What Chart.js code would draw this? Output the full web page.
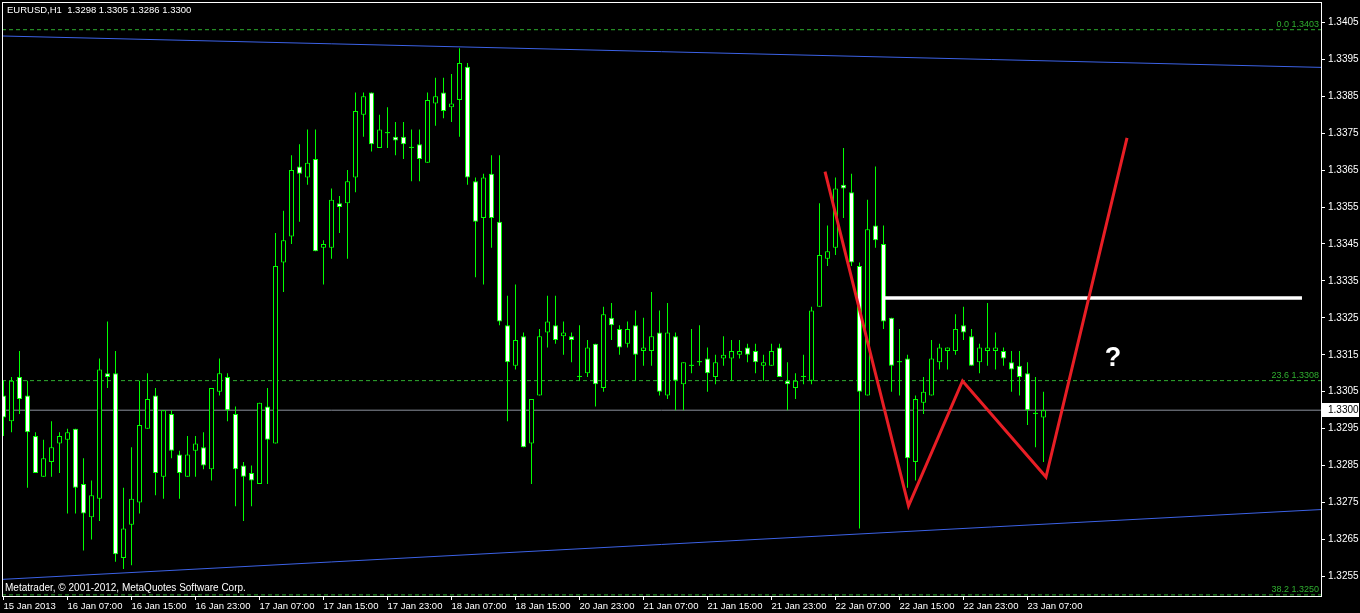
<!DOCTYPE html>
<html>
<head>
<meta charset="utf-8">
<script src="https://cdn.jsdelivr.net/npm/chart.js@4.4.0/dist/chart.umd.min.js"></script>
<style>
html, body { margin: 0; padding: 0; background: #000; }
canvas { display: block; }
</style>
</head>
<body>
<canvas id="myChart" width="1360" height="613"></canvas>
<script>
const symbol = 'EURUSD,H1';

// H1 candles (bar 0 = 15 Jan 23:00)
const opens = [
  1.3304,1.3297,1.3309,1.3304,1.3293,1.3282,1.3286,1.3291,1.3292,1.3295,
  1.3280,1.3271,1.3276,1.3310,1.3310,1.3260,1.3269,1.3275,1.3295,1.3304,
  1.3282,1.3299,1.3288,1.3282,1.3289,1.3290,1.3284,1.3305,1.3309,1.3299,
  1.3285,1.3283,1.3280,1.3301,1.3291,1.3340,1.3347,1.3366,1.3363,1.3368,
  1.3344,1.3344,1.3356,1.3356,1.3363,1.3380,1.3386,1.3371,1.3375,1.3374,
  1.3374,1.3371,1.3372,1.3367,1.3383,1.3386,1.3382,1.3384,1.3393,1.3362,
  1.3352,1.3364,1.3351,1.3323,1.3312,1.3320,1.3291,1.3304,1.3321,1.3323,
  1.3320,1.3320,1.3309,1.3310,1.3318,1.3306,1.3325,1.3322,1.3318,1.3323,
  1.3316,1.3316,1.3321,1.3304,1.3320,1.3307,1.3312,1.3313,1.3314,1.3309,
  1.3314,1.3314,1.3315,1.3317,1.3316,1.3312,1.3312,1.3317,1.3308,1.3306,
  1.3309,1.3308,1.3328,1.3341,1.3344,1.3361,1.3359,1.3339,1.3304,1.3350,
  1.3345,1.3325,1.3313,1.3314,1.3286,1.3302,1.3304,1.3313,1.3316,1.3316,
  1.3323,1.3320,1.3313,1.3316,1.3316,1.3316,1.3313,1.3312,1.3310,1.3299,
  1.3298
];
const highs = [
  1.3308,1.3309,1.3316,1.3308,1.3294,1.3292,1.3297,1.3294,1.3295,1.3295,
  1.3287,1.3281,1.3314,1.3324,1.3316,1.3279,1.3290,1.3308,1.3310,1.3306,
  1.3300,1.3300,1.3289,1.3293,1.3293,1.3294,1.3306,1.3314,1.3310,1.3301,
  1.3286,1.3285,1.3302,1.3306,1.3348,1.3354,1.3369,1.3372,1.3376,1.3376,
  1.3346,1.3360,1.3358,1.3365,1.3386,1.3386,1.3386,1.3380,1.3382,1.3378,
  1.3378,1.3376,1.3376,1.3386,1.3390,1.3390,1.3391,1.3398,1.3394,1.3363,
  1.3364,1.3369,1.3369,1.3331,1.3334,1.3321,1.3303,1.3322,1.3331,1.3331,
  1.3324,1.3321,1.3323,1.3319,1.3318,1.3328,1.3329,1.3323,1.3324,1.3327,
  1.3325,1.3332,1.3327,1.3329,1.3321,1.3313,1.3322,1.3323,1.3317,1.3315,
  1.3320,1.3319,1.3319,1.3318,1.3318,1.3315,1.3318,1.3318,1.3313,1.3310,
  1.3315,1.3328,1.3356,1.3350,1.3363,1.3371,1.3364,1.3340,1.3357,1.3366,
  1.3350,1.3325,1.3322,1.3315,1.3304,1.3309,1.3319,1.3318,1.3317,1.3326,
  1.3328,1.3322,1.3318,1.3329,1.3321,1.3317,1.3316,1.3316,1.3313,1.3309,
  1.3305
];
const lows = [
  1.3293,1.3294,1.3299,1.3279,1.3283,1.3282,1.3282,1.3283,1.3272,1.3272,
  1.3262,1.3265,1.3270,1.3306,1.3259,1.3257,1.3258,1.3272,1.3295,1.3277,
  1.3276,1.3287,1.3276,1.3282,1.3282,1.3284,1.3281,1.3304,1.3297,1.3274,
  1.3270,1.3274,1.3280,1.3280,1.3291,1.3332,1.3345,1.3351,1.3361,1.3343,
  1.3334,1.3341,1.3348,1.3341,1.3359,1.3374,1.3370,1.3371,1.3371,1.3369,
  1.3368,1.3362,1.3362,1.3367,1.3377,1.3379,1.3378,1.3374,1.3361,1.3336,
  1.3334,1.3344,1.3323,1.3297,1.3311,1.3290,1.3280,1.3304,1.3317,1.3318,
  1.3315,1.3313,1.3308,1.3309,1.3301,1.3305,1.3319,1.3315,1.3317,1.3308,
  1.3312,1.3312,1.3304,1.3303,1.3300,1.3300,1.3310,1.3312,1.3305,1.3307,
  1.3312,1.3308,1.3314,1.3313,1.3310,1.3308,1.3312,1.3309,1.3300,1.3303,
  1.3307,1.3307,1.3328,1.3339,1.3342,1.3352,1.3339,1.3268,1.3304,1.3344,
  1.3322,1.3305,1.3304,1.3279,1.3281,1.3299,1.3304,1.3311,1.3311,1.3315,
  1.3319,1.3312,1.3310,1.3312,1.3311,1.3312,1.3305,1.3304,1.3296,1.3290,
  1.3286
];
const closes = [
  1.3298,1.3308,1.3303,1.3294,1.3283,1.3287,1.3290,1.3293,1.3294,1.3279,
  1.3272,1.3277,1.3311,1.3309,1.3261,1.3268,1.3276,1.3296,1.3303,1.3283,
  1.3300,1.3289,1.3283,1.3288,1.3291,1.3285,1.3306,1.3310,1.3300,1.3284,
  1.3282,1.3281,1.3302,1.3292,1.3339,1.3346,1.3365,1.3364,1.3367,1.3343,
  1.3345,1.3357,1.3355,1.3362,1.3381,1.3385,1.3372,1.3376,1.3375,1.3373,
  1.3372,1.3371,1.3368,1.3384,1.3385,1.3381,1.3383,1.3394,1.3363,1.3351,
  1.3363,1.3352,1.3324,1.3313,1.3319,1.3290,1.3303,1.3320,1.3324,1.3319,
  1.3321,1.3319,1.3309,1.3317,1.3307,1.3326,1.3323,1.3317,1.3322,1.3315,
  1.3317,1.3320,1.3305,1.3321,1.3308,1.3313,1.3312,1.3313,1.3310,1.3313,
  1.3315,1.3316,1.3316,1.3315,1.3313,1.3313,1.3316,1.3309,1.3307,1.3308,
  1.3309,1.3327,1.3342,1.3343,1.3360,1.3360,1.3340,1.3305,1.3349,1.3346,
  1.3324,1.3312,1.3313,1.3287,1.3303,1.3305,1.3314,1.3317,1.3317,1.3322,
  1.3321,1.3312,1.3317,1.3317,1.3317,1.3314,1.3311,1.3309,1.3300,1.3299,
  1.3300
];

const xTickLabels = ['15 Jan 2013', '16 Jan 07:00', '16 Jan 15:00', '16 Jan 23:00', '17 Jan 07:00',
  '17 Jan 15:00', '17 Jan 23:00', '18 Jan 07:00', '18 Jan 15:00', '20 Jan 23:00', '21 Jan 07:00',
  '21 Jan 15:00', '21 Jan 23:00', '22 Jan 07:00', '22 Jan 15:00', '22 Jan 23:00', '23 Jan 07:00'];
const barsPerLabel = 8;
const yTickValues = [1.3255, 1.3265, 1.3275, 1.3285, 1.3295, 1.3305, 1.3315, 1.3325,
  1.3335, 1.3345, 1.3355, 1.3365, 1.3375, 1.3385, 1.3395, 1.3405];

// objects drawn on the chart (x in bars, y in price)
const upperChannelX = [-0.1875, 164.6875];
const upperChannelY = [1.34013, 1.33928];
const lowerChannelX = [-0.1875, 164.6875];
const lowerChannelY = [1.32542, 1.32731];
const zigzagX = [102.69, 113.13, 119.88, 130.31, 140.44];
const zigzagY = [1.33646, 1.32741, 1.33079, 1.32819, 1.33737];
const levelX = [110.19, 162.31];
const levelY = 1.33304;
const fiboNames = ['0.0', '23.6', '38.2'];
const fiboLevels = [1.3403, 1.3308, 1.3250];
const bidPrice = 1.3300;
const questionX = 138.69, questionY = 1.33141;

const xMin = -0.1875, xMax = 164.6875;
const yMin = 1.32497, yMax = 1.34105;

const lime = '#00ff00';
const fiboColor = '#2fae2f';
const FONT = '"Liberation Sans", Arial, sans-serif';

const idx = opens.map((_, i) => i);
const pts = (xs, ys) => xs.map((v, i) => ({ x: v, y: ys[i] }));

function bodyFill(c) {
    const i = c.dataIndex;
    if (opens[i] === closes[i]) return lime;
    return closes[i] > opens[i] ? '#000000' : '#ffffff';
}

const overlay = {
    id: 'overlay',
    afterDatasetsDraw(chart) {
        const { ctx, chartArea: a, scales: { x, y } } = chart;
        ctx.save();
        ctx.font = '9px ' + FONT;
        ctx.fillStyle = fiboColor;
        ctx.textAlign = 'right';
        ctx.textBaseline = 'bottom';
        fiboLevels.forEach((lv, k) => {
            ctx.fillText(fiboNames[k] + ' ' + lv.toFixed(4), a.right - 2, y.getPixelForValue(lv) - 1);
        });
        ctx.font = 'bold 27px ' + FONT;
        ctx.fillStyle = '#ffffff';
        ctx.textAlign = 'center';
        ctx.textBaseline = 'middle';
        ctx.fillText('?', x.getPixelForValue(questionX), y.getPixelForValue(questionY));
        ctx.restore();
    },
    afterDraw(chart) {
        const { ctx, chartArea: a, scales: { y } } = chart;
        const last = opens.length - 1;
        ctx.save();
        ctx.strokeStyle = '#ffffff';
        ctx.lineWidth = 1;
        ctx.strokeRect(a.left + 0.5, a.top + 0.5, a.right - a.left, a.bottom - a.top);

        ctx.font = '9.5px ' + FONT;
        ctx.fillStyle = '#ffffff';
        ctx.textAlign = 'left';
        ctx.textBaseline = 'middle';
        ctx.fillText(symbol + '  ' + [opens[last], highs[last], lows[last], closes[last]].map(v => v.toFixed(4)).join(' '), 7, 10);
        ctx.font = '10px ' + FONT;
        ctx.fillText('Metatrader, \u00a9 2001-2012, MetaQuotes Software Corp.', 5, 588);

        const yy = Math.round(y.getPixelForValue(bidPrice));
        ctx.fillRect(a.right + 1, yy - 7, 37, 14);
        ctx.fillStyle = '#000000';
        ctx.fillText(bidPrice.toFixed(4), a.right + 7, yy + 0.5);
        ctx.restore();
    }
};

const ctx = document.getElementById('myChart').getContext('2d');
const chart = new Chart(ctx, {
    type: 'bar',
    data: {
        datasets: [
            {
                label: 'zigzag', type: 'line', order: 0,
                data: pts(zigzagX, zigzagY),
                borderColor: '#e81e25', borderWidth: 3, pointRadius: 0, tension: 0, fill: false
            },
            {
                label: 'level', type: 'line', order: 0,
                data: pts(levelX, [levelY, levelY]),
                borderColor: '#ffffff', borderWidth: 3.5, pointRadius: 0, fill: false
            },
            {
                label: 'bodies', order: 1, grouped: false,
                data: idx.map(i => ({ x: i, y: [opens[i], closes[i]] })),
                backgroundColor: bodyFill,
                borderColor: lime,
                borderWidth: c => (opens[c.dataIndex] === closes[c.dataIndex] ? 0 : 1),
                borderSkipped: false,
                barThickness: 5,
                minBarLength: 1,
                inflateAmount: 0
            },
            {
                label: 'wicks', order: 2, grouped: false,
                data: idx.map(i => ({ x: i, y: [lows[i], highs[i]] })),
                backgroundColor: lime,
                borderWidth: 0,
                barThickness: 1,
                inflateAmount: 0
            },
            {
                label: 'bid', type: 'line', order: 3,
                data: pts([xMin, xMax], [bidPrice, bidPrice]),
                borderColor: '#8a909c', borderWidth: 1, pointRadius: 0, fill: false
            },
            ...fiboLevels.map(lv => ({
                label: 'fibo', type: 'line', order: 3,
                data: pts([xMin, xMax], [lv, lv]),
                borderColor: fiboColor, borderWidth: 1, borderDash: [4, 3], pointRadius: 0, fill: false
            })),
            {
                label: 'upper', type: 'line', order: 3,
                data: pts(upperChannelX, upperChannelY),
                borderColor: '#3c62e6', borderWidth: 1, pointRadius: 0, fill: false
            },
            {
                label: 'lower', type: 'line', order: 3,
                data: pts(lowerChannelX, lowerChannelY),
                borderColor: '#3c62e6', borderWidth: 1, pointRadius: 0, fill: false
            }
        ]
    },
    options: {
        responsive: false,
        animation: false,
        events: [],
        layout: { padding: { left: 2, top: 2, right: 0, bottom: 0 } },
        plugins: { legend: { display: false }, tooltip: { enabled: false } },
        scales: {
            x: {
                type: 'linear', min: xMin, max: xMax, offset: false,
                grid: { offset: false, drawOnChartArea: false, drawTicks: true, tickLength: 4, color: '#ffffff' },
                border: { display: false },
                afterBuildTicks: s => { s.ticks = xTickLabels.map((_, i) => ({ value: i * barsPerLabel })); },
                afterFit: s => { s.height = 17; s.paddingLeft = 0; s.paddingRight = 0; },
                ticks: {
                    align: 'start', autoSkip: false, maxRotation: 0, padding: 1,
                    color: '#ffffff', font: { family: FONT, size: 9.5 },
                    callback: v => xTickLabels[Math.round(v / barsPerLabel)]
                }
            },
            y: {
                type: 'linear', position: 'right', min: yMin, max: yMax, beginAtZero: false,
                grid: { drawOnChartArea: false, drawTicks: true, tickLength: 4, color: '#ffffff' },
                border: { display: false },
                afterBuildTicks: s => { s.ticks = yTickValues.map(v => ({ value: v })); },
                afterFit: s => { s.width = 39; s.paddingTop = 0; s.paddingBottom = 0; },
                ticks: {
                    padding: 3, color: '#ffffff', font: { family: FONT, size: 10 },
                    callback: v => v.toFixed(4)
                }
            }
        }
    },
    plugins: [overlay]
});
</script>
</body>
</html>
